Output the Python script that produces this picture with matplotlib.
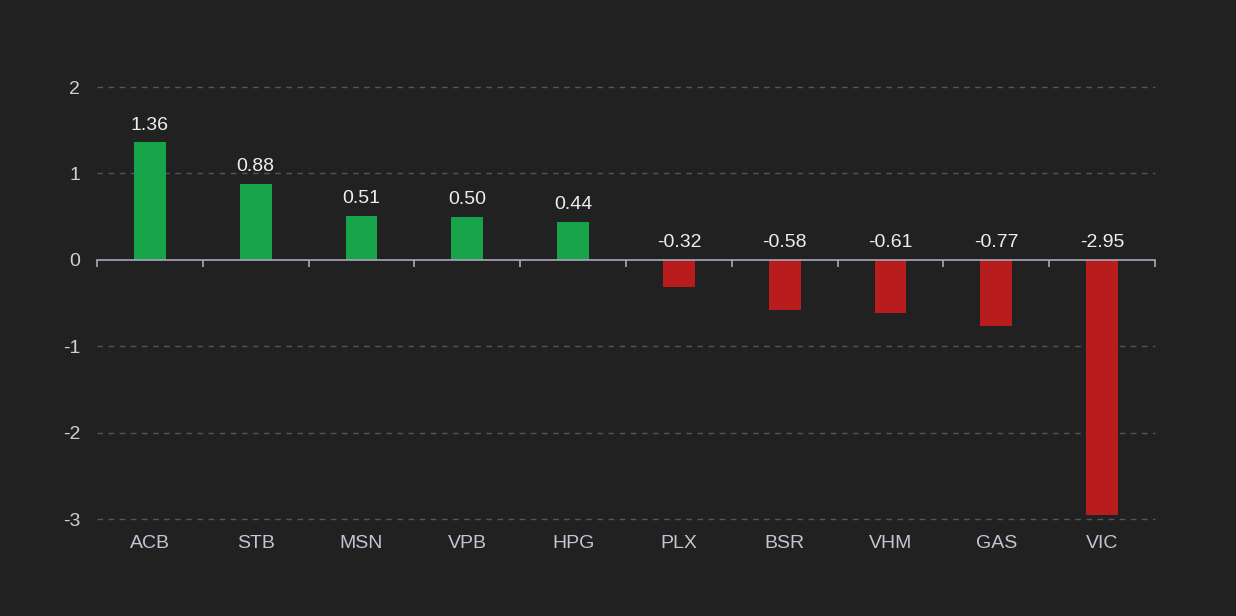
import numpy as np
import matplotlib.pyplot as plt
from matplotlib.transforms import blended_transform_factory

plt.rcParams['font.family'] = ['Liberation Sans', 'DejaVu Sans']

tickers = ["ACB", "STB", "MSN", "VPB", "HPG", "PLX", "BSR", "VHM", "GAS", "VIC"]
values = [1.36, 0.88, 0.51, 0.50, 0.44, -0.32, -0.58, -0.61, -0.77, -2.95]
yticks = [-3, -2, -1, 0, 1, 2]

bg = "#212121"
green = "#16a34a"
red = "#b91c1c"

fig = plt.figure(figsize=(12.36, 6.16), dpi=100, facecolor=bg)
ax = fig.add_axes([97 / 1236, 1 - 519 / 616, 1058 / 1236, 432 / 616])
ax.set_facecolor(bg)

x = np.arange(len(tickers))
colors = [green if v >= 0 else red for v in values]
ax.bar(x, values, width=0.3, color=colors, zorder=3)

ax.set_xlim(-0.5, len(tickers) - 0.5)
ax.set_ylim(-3, 2)

# dashed grid, skip zero (axis line sits there)
for yv in yticks:
    if yv != 0:
        ax.axhline(yv, color="#55555c", linestyle=(0, (4, 4)), linewidth=1,
                   zorder=1, clip_on=False)

for s in ["top", "right", "left"]:
    ax.spines[s].set_visible(False)
ax.spines["bottom"].set_position(("data", 0))
ax.spines["bottom"].set_color("#a8a8bc")
ax.spines["bottom"].set_linewidth(1.2)
ax.spines["bottom"].set_zorder(4)

ax.set_xticks(np.arange(-0.5, len(tickers), 1.0))
ax.set_xticklabels([])
ax.tick_params(axis="x", direction="out", length=5, width=1.2, color="#a8a8bc")

ax.set_yticks(yticks)
ax.set_yticklabels([str(v) for v in yticks])
ax.tick_params(axis="y", length=0, pad=12, labelcolor="#d0d0d8", labelsize=14)

trans = blended_transform_factory(ax.transData, ax.transAxes)
for xi, name in zip(x, tickers):
    ax.text(xi, -0.057, name, transform=trans, ha="center", va="center",
            color="#c4c4d4", fontsize=14)

for xi, v in zip(x, values):
    base = v if v >= 0 else 0
    ax.annotate(f"{v:.2f}", (xi, base), xytext=(0, 6), textcoords="offset points",
                ha="center", va="bottom", color="#eeeeee", fontsize=14, zorder=5)

fig.savefig("out.png", dpi=100, facecolor=bg)
